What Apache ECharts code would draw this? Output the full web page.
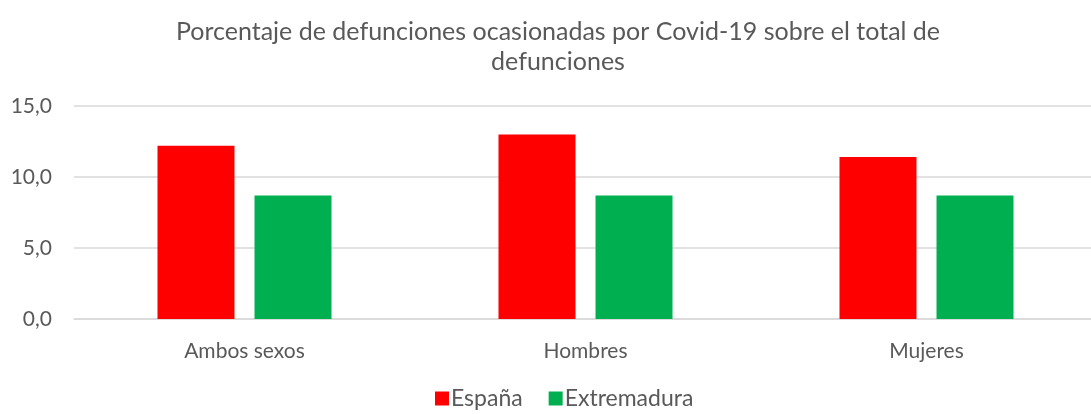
<!DOCTYPE html>
<html><head><meta charset="utf-8">
<script src="https://cdn.jsdelivr.net/npm/echarts@6/dist/echarts.min.js"></script>
<style>html,body{margin:0;padding:0;background:#fff;overflow:hidden}#c{width:1110px;height:414px}</style>
</head><body><div id="c"></div>
<script>
const categories = ['Ambos sexos', 'Hombres', 'Mujeres'];
const espana = [12.2, 13.0, 11.4];
const extremadura = [8.7, 8.7, 8.7];
const yTicks = [0, 5, 10, 15];

const FONT = 'Lato';
const chart = echarts.init(document.getElementById('c'));
chart.setOption({
  animation: false,
  title: {
    text: 'Porcentaje de defunciones ocasionadas por Covid-19 sobre el total de\ndefunciones',
    left: 553, top: 12, textAlign: 'center',
    textStyle: {fontFamily: FONT, fontSize: 25, fontWeight: 'normal', color: '#595959', lineHeight: 30}
  },
  legend: {
    bottom: 4, left: 435, padding: 0, itemWidth: 14, itemHeight: 14, itemGap: 26,
    icon: 'rect',
    textStyle: {fontFamily: FONT, fontSize: 23, color: '#595959', padding: [0,0,0,-3]},
    data: ['España', 'Extremadura']
  },
  grid: {left: 74, width: 1023, top: 106, height: 213, containLabel: false},
  xAxis: {
    type: 'category', data: categories,
    axisLine: {lineStyle: {color: '#d9d9d9', width: 1.5}},
    axisTick: {show: false},
    axisLabel: {fontFamily: FONT, fontSize: 21, color: '#595959', margin: 22}
  },
  yAxis: {
    type: 'value', min: yTicks[0], max: yTicks[yTicks.length-1], interval: 5,
    axisLine: {show: false}, axisTick: {show: false},
    splitLine: {lineStyle: {color: '#d9d9d9', width: 1.5}},
    axisLabel: {fontFamily: FONT, fontSize: 21, color: '#595959', margin: 22,
      formatter: v => v.toFixed(1).replace('.', ',')}
  },
  series: [
    {name: 'España', type: 'bar', data: espana, barWidth: 77, barGap: '26%',
     itemStyle: {color: '#ff0000'}},
    {name: 'Extremadura', type: 'bar', data: extremadura, barWidth: 77,
     itemStyle: {color: '#00b050'}}
  ]
});
</script></body></html>
